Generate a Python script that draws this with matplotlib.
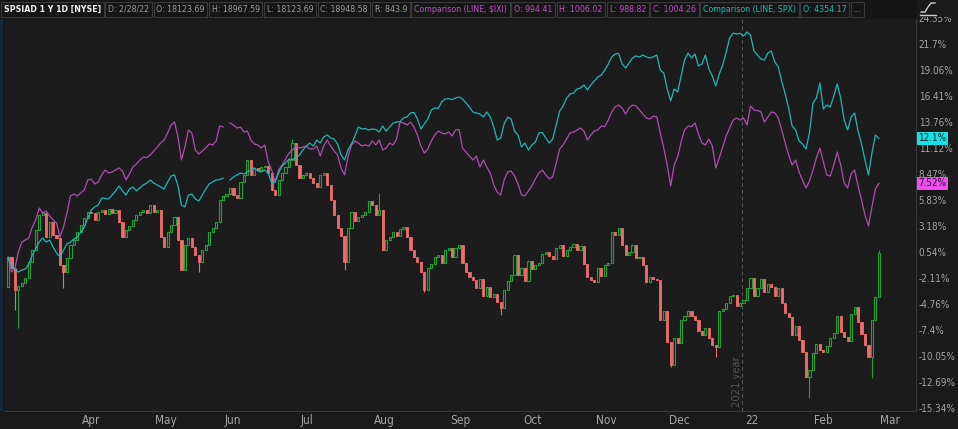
import matplotlib
matplotlib.use('Agg')
import matplotlib.pyplot as plt
import matplotlib.transforms as mtransforms
from matplotlib import font_manager as fm
from matplotlib.patches import Rectangle
from matplotlib.lines import Line2D
import numpy as np
import pandas as pd

# pick a narrow face if one is installed (the original uses a condensed font)
font_family, font_stretch = 'Roboto', 'normal'
for fam, stretch in [('Liberation Sans Narrow', 'normal'), ('Noto Sans', 'condensed'),
                     ('Open Sans', 'condensed'), ('DejaVu Sans', 'condensed'),
                     ('Roboto', 'condensed')]:
    try:
        path = fm.findfont(fm.FontProperties(family=fam, stretch=stretch),
                           fallback_to_default=False)
    except ValueError:
        continue
    if 'narrow' in path.lower() or 'condensed' in path.lower():
        font_family, font_stretch = fam, stretch
        break
plt.rcParams['font.family'] = [font_family, 'DejaVu Sans']
plt.rcParams['font.stretch'] = font_stretch

# trading calendar (NYSE holidays inside the year window)
start_day = '2021-03-02'
end_day = '2022-02-28'
holidays = ['2021-04-02', '2021-05-31', '2021-07-05', '2021-09-06',
            '2021-11-25', '2021-12-24', '2022-01-17', '2022-02-21']

# SPSIAD daily closes, % change vs first bar
first_open = -3.0
closes = [
    0.0, -1.09, -3.33, -2.90, -2.62, -2.11, -0.48, 0.74, 2.78, 4.30,
    4.51, 2.06, 3.59, 2.27, 1.96, -0.79, -1.50, -0.08, 1.25, 1.76,
    2.57, 3.29, 4.00, 4.61, 4.55, 3.79, 4.61, 4.81, 4.40, 4.91,
    4.51, 4.81, 3.59, 2.06, 2.78, 3.18, 3.79, 4.30, 4.61, 4.81,
    4.55, 5.32, 4.61, 4.81, 2.06, 1.04, 2.57, 3.29, 4.10, 1.76,
    -1.30, 1.25, 1.96, 1.04, 0.23, -0.48, 0.74, 1.25, 2.57, 2.98,
    3.59, 5.83, 6.24, 6.44, 7.05, 6.34, 6.03, 7.66, 8.38, 9.90,
    8.38, 9.09, 8.88, 9.19, 9.25, 8.58, 6.85, 6.34, 7.87, 8.58,
    9.19, 9.90, 11.63, 9.39, 8.07, 8.38, 8.58, 8.07, 7.56, 7.15,
    8.38, 8.58, 7.36, 5.83, 4.30, 2.98, 2.17, -0.48, 2.98, 4.61,
    3.69, 4.10, 4.30, 4.61, 5.73, 5.32, 4.30, 4.81, 0.74, 1.76,
    2.06, 2.57, 2.17, 2.88, 3.08, 2.06, 0.74, 0.03, -0.48, -1.50,
    -3.33, -1.09, -0.69, 0.03, 0.23, -0.58, 0.74, 0.94, 0.03, 0.94,
    1.25, -0.58, -1.50, -2.01, -2.31, -3.13, -2.21, -3.94, -3.03, -4.04,
    -3.74, -4.55, -5.16, -3.33, -2.42, -1.81, 0.23, -1.81, -1.09, -2.42,
    -0.38, -1.19, -0.79, -0.58, 0.33, 0.54, 0.13, -0.18, 0.94, 1.25,
    0.13, 0.74, 1.04, 1.35, 0.74, 1.15, -0.69, -2.01, -2.31, -2.52,
    -1.09, -1.91, -0.79, -0.58, 2.57, 2.27, 2.98, 1.25, 0.23, 0.54,
    1.25, -0.08, 0.03, -0.79, -2.52, -2.01, -2.21, -2.31, -6.39, -5.47,
    -8.63, -10.97, -8.22, -8.73, -6.39, -5.98, -5.47, -5.98, -6.39, -7.51,
    -7.91, -7.20, -8.22, -8.93, -9.13, -5.47, -5.27, -4.66, -3.94, -3.84,
    -4.96, -4.66, -4.35, -3.13, -2.11, -3.94, -3.13, -2.21, -3.54, -2.72,
    -3.03, -3.94, -3.13, -4.66, -5.67, -6.08, -7.91, -7.00, -8.42, -9.64,
    -12.19, -11.48, -9.75, -8.83, -9.44, -9.64, -9.03, -8.22, -7.71, -5.98,
    -7.61, -8.12, -8.52, -5.78, -5.06, -6.59, -7.81, -8.93, -10.15, -6.39,
    -4.04, 0.43,
]
# wicks that reach past the candle body
extra_highs = {82: 12.0, 107: 6.54, 251: 0.74}
extra_lows = {2: -5.4, 3: -7.2, 16: -3.13, 55: -1.5, 97: -1.3, 120: -3.54,
              142: -5.88, 191: -11.2, 204: -10.15, 231: -14.33, 249: -12.29}

# comparison lines, % change
ixi_pct = [
    0.0, -1.50, -1.09, 0.54, 1.55, 1.76, 1.96, 3.08, 3.79, 5.02,
    4.51, 4.71, 4.20, 3.79, 3.49, 2.06, 3.08, 4.51, 6.24, 6.44,
    6.24, 6.54, 6.85, 7.87, 7.95, 7.46, 7.66, 8.38, 8.88, 8.58,
    8.68, 8.88, 9.09, 8.78, 7.87, 8.48, 9.19, 9.50, 9.90, 10.21,
    10.15, 10.41, 10.82, 11.23, 11.63, 11.94, 12.65, 13.46, 13.77, 12.24,
    9.90, 11.23, 12.96, 12.65, 10.92, 10.51, 10.82, 11.12, 11.53, 11.43,
    11.84, 13.36, 13.26, np.nan, 13.67, 13.46, 13.16, 13.26, 12.75, 12.85,
    11.94, 11.53, 11.43, 11.12, 11.43, 9.70, 8.88, 7.66, 8.88, 9.39,
    10.00, 10.61, 10.92, 11.33, 11.12, 11.23, 11.33, 11.02, 11.02, 11.33,
    10.31, 11.33, 11.94, 11.33, 10.82, 10.41, 9.09, 8.38, 10.21, 11.43,
    11.84, 11.63, 11.33, 11.43, 11.33, 11.84, 11.43, 11.94, 10.92, 11.12,
    11.63, 11.43, 12.04, 13.77, 13.67, 13.46, 13.77, 13.26, 12.45, 11.33,
    10.61, 11.02, 11.84, 12.45, 12.85, 12.65, 12.55, 12.75, 12.35, 12.96,
    13.00, 11.12, 10.72, 10.31, 9.90, 10.31, 9.19, 9.90, 9.19, 8.58,
    7.36, 6.64, 6.34, 7.87, 8.68, 8.78, 8.27, 7.46, 6.34, 6.24,
    6.75, 7.26, 7.97, 8.58, 8.88, 8.38, 7.97, 8.17, 9.60, 11.02,
    11.43, 12.04, 12.65, 12.75, 12.96, 13.16, 12.85, 11.94, 12.45, 12.85,
    12.96, 13.36, 13.30, 13.97, 14.79, 15.30, 15.50, 15.20, 14.58, 15.20,
    15.50, 15.40, 14.99, 14.58, 14.18, 14.08, 14.38, 14.28, 12.65, 11.12,
    9.39, 7.26, 9.39, 10.21, 11.73, 12.96, 13.36, 13.30, 13.67, 12.55,
    11.63, 11.43, 12.04, 11.33, 9.09, 10.11, 11.23, 12.35, 13.16, 13.97,
    14.18, 13.97, 14.18, 13.46, 15.40, 14.99, 14.95, 14.79, 13.77, 14.28,
    14.79, 14.70, 14.18, 12.96, 11.63, 10.41, 9.39, 9.90, 8.68, 7.87,
    7.05, 7.76, 8.88, 10.11, 11.12, 9.70, 8.38, 8.27, 9.39, 10.72,
    9.39, 7.56, 7.05, 8.48, 8.88, 7.26, 5.83, 4.30, 3.18, 5.12,
    6.95, 7.52,
]
spx_pct = [
    0.0, -0.89, -1.19, -1.50, -1.30, -1.19, -0.69, 0.23, 0.84, 1.55,
    1.96, 1.55, 1.76, 1.04, 0.43, 0.03, 0.74, 1.35, 1.55, 1.86,
    2.06, 2.57, 3.08, 4.00, 4.81, 5.12, 5.32, 6.03, 6.00, 5.93,
    6.34, 6.75, 7.26, 6.75, 6.34, 6.95, 7.15, 6.75, 7.05, 7.36,
    7.56, 7.87, 7.56, 7.36, 7.15, 6.95, 7.66, 8.27, 8.38, 7.26,
    5.32, 5.12, 6.34, 6.44, 5.93, 5.73, 6.34, 6.95, 7.46, 7.66,
    7.87, 7.90, 8.07, np.nan, 7.87, 8.17, 8.38, 8.58, 8.48, 8.68,
    8.88, 9.09, 8.78, 8.68, 8.88, 8.58, 7.56, 7.66, 8.58, 9.29,
    9.60, 10.00, 9.95, 10.11, 10.41, 10.92, 11.33, 11.63, 11.33, 11.94,
    11.63, 12.24, 12.45, 12.14, 12.04, 11.53, 10.41, 9.90, 10.92, 11.53,
    12.35, 13.26, 13.06, 13.10, 12.96, 13.06, 13.00, 12.75, 13.36, 12.85,
    13.26, 13.67, 13.77, 13.80, 14.18, 14.28, 14.69, 14.75, 14.08, 13.06,
    13.57, 14.08, 14.99, 15.20, 15.15, 15.81, 16.11, 16.15, 16.05, 16.21,
    16.32, 16.11, 15.70, 15.30, 14.79, 14.69, 14.58, 14.28, 14.79, 14.28,
    13.26, 11.94, 12.14, 13.57, 14.28, 14.08, 12.85, 12.45, 11.23, 11.63,
    10.92, 11.43, 11.73, 12.65, 12.70, 12.14, 11.63, 12.04, 13.46, 14.89,
    15.40, 16.21, 16.62, 16.72, 17.13, 17.23, 17.54, 17.03, 17.54, 17.94,
    18.35, 18.55, 19.06, 19.67, 20.39, 20.69, 20.75, 19.67, 19.27, 19.78,
    20.29, 20.49, 20.39, 20.59, 20.39, 20.29, 20.39, 20.59, 19.06, 18.76,
    17.13, 15.91, 17.13, 16.82, 18.45, 20.08, 20.79, 20.29, 20.69, 19.47,
    19.67, 20.59, 19.17, 18.45, 17.44, 18.66, 19.57, 20.90, 22.32, 22.83,
    22.73, 22.80, 22.53, 22.93, 22.63, 21.00, 20.59, 20.18, 20.08, 20.79,
    21.00, 19.88, 19.37, 17.94, 16.62, 15.20, 13.36, 12.96, 11.84, 11.53,
    11.02, 12.65, 15.70, 16.21, 17.74, 15.09, 15.50, 15.30, 16.42, 17.64,
    16.21, 13.97, 12.96, 14.28, 14.69, 12.85, 11.53, 9.90, 8.38, 10.61,
    12.45, 12.10,
]

y_ticks = [24.35, 21.7, 19.06, 16.41, 13.76, 11.12, 8.47, 5.83, 3.18, 0.54,
           -2.11, -4.76, -7.4, -10.05, -12.69, -15.34]

# header cells: text, colour, weight
header_cells = [
    ('SPSIAD 1 Y 1D [NYSE]', '#f2f2f2', 'bold'),
    ('D: 2/28/22', '#9c9c9c', 'normal'),
    ('O: 18123.69', '#9c9c9c', 'normal'),
    ('H: 18967.59', '#9c9c9c', 'normal'),
    ('L: 18123.69', '#9c9c9c', 'normal'),
    ('C: 18948.58', '#9c9c9c', 'normal'),
    ('R: 843.9', '#9c9c9c', 'normal'),
    ('Comparison (LINE, \\$IXI)', '#c24ec4', 'normal'),
    ('O: 994.41', '#c24ec4', 'normal'),
    ('H: 1006.02', '#c24ec4', 'normal'),
    ('L: 988.82', '#c24ec4', 'normal'),
    ('C: 1004.26', '#c24ec4', 'normal'),
    ('Comparison (LINE, SPX)', '#22b9b9', 'normal'),
    ('O: 4354.17', '#22b9b9', 'normal'),
    ('...', '#9c9c9c', 'normal'),
]

BG = '#1c1c1c'
RED = '#f06c6c'
GREEN = '#22a03c'
CYAN = '#1fb7b7'
MAGENTA = '#b24db3'
W, H = 958, 429

days = pd.bdate_range(start_day, end_day)
days = days[~days.isin(pd.to_datetime(holidays))]

n = len(closes)
x = np.arange(n)
c = np.array(closes)
o = np.r_[first_open, c[:-1]]
hi = np.maximum(o, c)
lo = np.minimum(o, c)
for i, v in extra_highs.items():
    hi[i] = max(hi[i], v)
for i, v in extra_lows.items():
    lo[i] = min(lo[i], v)
up = c >= o

fig = plt.figure(figsize=(W / 100, H / 100), dpi=100, facecolor='#1a1a1a')
ax = fig.add_axes([5 / W, 18 / H, 911 / W, 411 / H])
ax.set_facecolor(BG)
renderer = fig.canvas.get_renderer()


def width_px(t):
    return t.get_window_extent(renderer).width


# candles: wicks first, hollow green / filled red bodies on top
ax.vlines(x, lo, hi, colors=np.where(up, GREEN, RED), linewidth=0.8, zorder=2)
body_h = np.maximum(np.abs(c - o), 0.08)
body_b = np.minimum(o, c)
ax.bar(x[up], body_h[up], bottom=body_b[up], width=0.62, facecolor=BG,
       edgecolor=GREEN, linewidth=0.8, zorder=3)
ax.bar(x[~up], body_h[~up], bottom=body_b[~up], width=0.62, facecolor=RED,
       edgecolor=RED, linewidth=0.6, zorder=3)

ax.plot(np.arange(len(ixi_pct)), ixi_pct, color=MAGENTA, linewidth=0.9, zorder=4)
ax.plot(np.arange(len(spx_pct)), spx_pct, color=CYAN, linewidth=0.9, zorder=4)

# year separator
ax.axvline(211.5, color='#5a5a5a', linestyle=(0, (4, 3)), linewidth=0.7, zorder=1)
ax.text(210.2, -15.2, '2021 year', rotation=90, ha='center', va='bottom',
        color='#555555', fontsize=8, zorder=1)

ax.set_xlim(-0.86, 261.7)
ax.set_ylim(-15.65, 26.19)

# right price axis, one size that lets the widest label fit
ax.yaxis.tick_right()
ax.set_yticks(y_ticks)
ax.set_yticklabels([f'{v:g}%' for v in y_ticks])
ax.tick_params(axis='y', length=0, pad=2, labelcolor='#a6a6a6', labelsize=8.5)
widest = max(width_px(lbl) for lbl in ax.get_yticklabels())
ysize = min(8.5, 8.5 * 37 / widest)
ax.tick_params(axis='y', labelsize=ysize)

# month axis
month_idx = [i for i in range(1, len(days)) if days[i].month != days[i - 1].month]
month_lbl = [days[i].strftime('%y') if days[i].month == 1 else days[i].strftime('%b')
             for i in month_idx]
month_idx.append(len(days))
month_lbl.append((days[-1] + pd.offsets.MonthBegin(1)).strftime('%b'))
ax.set_xticks(np.array(month_idx) - 0.6)
ax.set_xticklabels(month_lbl, ha='left')
ax.tick_params(axis='x', length=0, pad=2, labelsize=8.5, labelcolor='#a6a6a6')

for side in ['top', 'left']:
    ax.spines[side].set_visible(False)
for side in ['right', 'bottom']:
    ax.spines[side].set_color('#383838')
    ax.spines[side].set_linewidth(0.8)

# last-value tags
tag_tr = mtransforms.blended_transform_factory(ax.transAxes, ax.transData)
ax.text(1 + 2.5 / 911, spx_pct[-1], f'{spx_pct[-1]:g}%', transform=tag_tr,
        ha='left', va='center', color='#0b1a24', zorder=10, clip_on=False,
        fontsize=ysize,
        bbox=dict(boxstyle='square,pad=0.12', fc='#14e2e6', ec='none'))
ax.text(1 + 2.5 / 911, ixi_pct[-1], f'{ixi_pct[-1]:g}%', transform=tag_tr,
        ha='left', va='center', color='#240a24', zorder=10, clip_on=False,
        fontsize=ysize,
        bbox=dict(boxstyle='square,pad=0.12', fc='#f04ff0', ec='none'))

# left edge strip
fig.add_artist(Rectangle((0, 18 / H), 3 / W, 411 / H, transform=fig.transFigure,
                         facecolor='#17283a', edgecolor='none', zorder=5))

# header bar: cells laid out one after another
fig.add_artist(Rectangle((0, 1 - 19 / H), 917 / W, 19 / H, transform=fig.transFigure,
                         facecolor='#151515', edgecolor='none', zorder=5))
fig.add_artist(Rectangle((917 / W, 1 - 17 / H), 41 / W, 17 / H, transform=fig.transFigure,
                         facecolor='#1a1a1a', edgecolor='none', zorder=5))
hsize = 8.0
texts = []
for label, color, weight in header_cells:
    t = fig.text(0, 1 - 9.5 / H, label, color=color, fontweight=weight, fontsize=hsize,
                 ha='left', va='center', zorder=6,
                 bbox=dict(boxstyle='square,pad=0.3', fc='#161616', ec='#3a3a3a', lw=0.8))
    texts.append(t)
gap = 7
total = sum(width_px(t) for t in texts) + gap * (len(texts) - 1)
if total > 866:
    hsize = hsize * (866 - gap * (len(texts) - 1)) / (total - gap * (len(texts) - 1))
px = 4
for t in texts:
    t.set_fontsize(hsize)
    t.set_x(px / W)
    px += width_px(t) + gap

# chart settings icon
fig.add_artist(Line2D(np.array([921, 925, 928, 931, 935]) / W,
                      1 - np.array([12, 12, 7, 3, 3]) / H, transform=fig.transFigure,
                      color='#d0d0d0', linewidth=1.0, zorder=7))
fig.add_artist(Line2D(np.array([920, 936]) / W, 1 - np.array([14.5, 14.5]) / H,
                      transform=fig.transFigure, color='#d0d0d0', linewidth=1.0, zorder=7))

fig.savefig('out.png', dpi=100, facecolor=fig.get_facecolor())
